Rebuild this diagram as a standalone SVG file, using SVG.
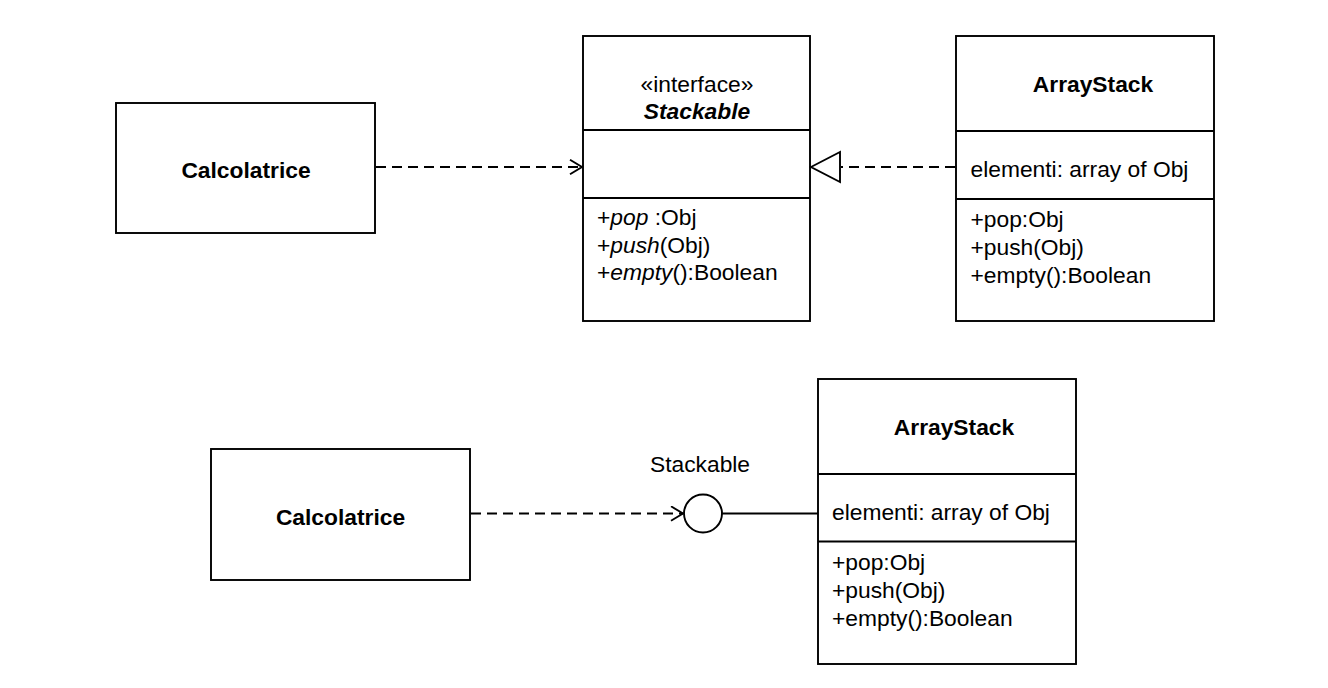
<svg xmlns="http://www.w3.org/2000/svg" width="1328" height="688" viewBox="0 0 1328 688">
<style>
.box{fill:#fff;stroke:#000;stroke-width:1.9}
.ln{fill:none;stroke:#000;stroke-width:1.9}
.dash{fill:none;stroke:#000;stroke-width:1.9;stroke-dasharray:10 6}
text{font-family:"Liberation Sans",Arial,Helvetica,sans-serif;font-size:22.8px;fill:#000}
.b{font-weight:bold}
.c{text-anchor:middle}
.i{font-style:italic}
</style>
<defs>
<marker id="open" viewBox="0 0 14 16" refX="13" refY="8" markerWidth="14" markerHeight="16" markerUnits="userSpaceOnUse" orient="auto">
<path d="M1,0.8 L13,8 L1,15.2" fill="none" stroke="#000" stroke-width="1.9"/>
</marker>
</defs>
<rect width="1328" height="688" fill="#fff"/>

<g id="calcolatrice-top">
<rect class="box" x="116" y="103" width="259" height="130"/>
<text class="b c" x="246" y="177.5">Calcolatrice</text>
</g>

<g id="stackable-interface">
<rect class="box" x="583" y="36" width="227" height="285"/>
<line class="ln" x1="583" y1="130" x2="810" y2="130"/>
<line class="ln" x1="583" y1="198" x2="810" y2="198"/>
<text class="c" x="697" y="91.5">«interface»</text>
<text class="b i c" x="697" y="119">Stackable</text>
<text x="597" y="224.5">+<tspan class="i">pop</tspan> :Obj</text>
<text x="597" y="252.5">+<tspan class="i">push</tspan>(Obj)</text>
<text x="597" y="280">+<tspan class="i">empty</tspan>():Boolean</text>
</g>

<g id="arraystack-top">
<rect class="box" x="956" y="36" width="258" height="285"/>
<line class="ln" x1="956" y1="131" x2="1214" y2="131"/>
<line class="ln" x1="956" y1="199" x2="1214" y2="199"/>
<text class="b c" x="1093" y="91.5">ArrayStack</text>
<text x="970.5" y="176.5">elementi: array of Obj</text>
<text x="970.5" y="226.5">+pop:Obj</text>
<text x="970.5" y="255">+push(Obj)</text>
<text x="970.5" y="283">+empty():Boolean</text>
</g>

<g id="calcolatrice-bottom">
<rect class="box" x="211" y="449" width="259" height="131"/>
<text class="b c" x="340.5" y="524.5">Calcolatrice</text>
</g>

<g id="stackable-lollipop">
<circle class="box" cx="703" cy="513.5" r="19"/>
<text class="c" x="700" y="472">Stackable</text>
</g>

<g id="arraystack-bottom">
<rect class="box" x="818" y="379" width="258" height="285"/>
<line class="ln" x1="818" y1="474" x2="1076" y2="474"/>
<line class="ln" x1="818" y1="541.5" x2="1076" y2="541.5"/>
<text class="b c" x="954" y="434.5">ArrayStack</text>
<text x="832" y="520">elementi: array of Obj</text>
<text x="832" y="569.5">+pop:Obj</text>
<text x="832" y="598">+push(Obj)</text>
<text x="832" y="626">+empty():Boolean</text>
</g>

<g id="connectors">
<line class="dash" x1="376" y1="167" x2="582" y2="167" marker-end="url(#open)"/>
<line class="dash" x1="955" y1="167" x2="841" y2="167"/>
<polygon points="811,167 840,152 840,182" fill="#fff" stroke="#000" stroke-width="1.9"/>
<line class="dash" x1="471" y1="513.5" x2="683" y2="513.5" marker-end="url(#open)"/>
<line class="ln" x1="722" y1="513.5" x2="818" y2="513.5"/>
</g>
</svg>
